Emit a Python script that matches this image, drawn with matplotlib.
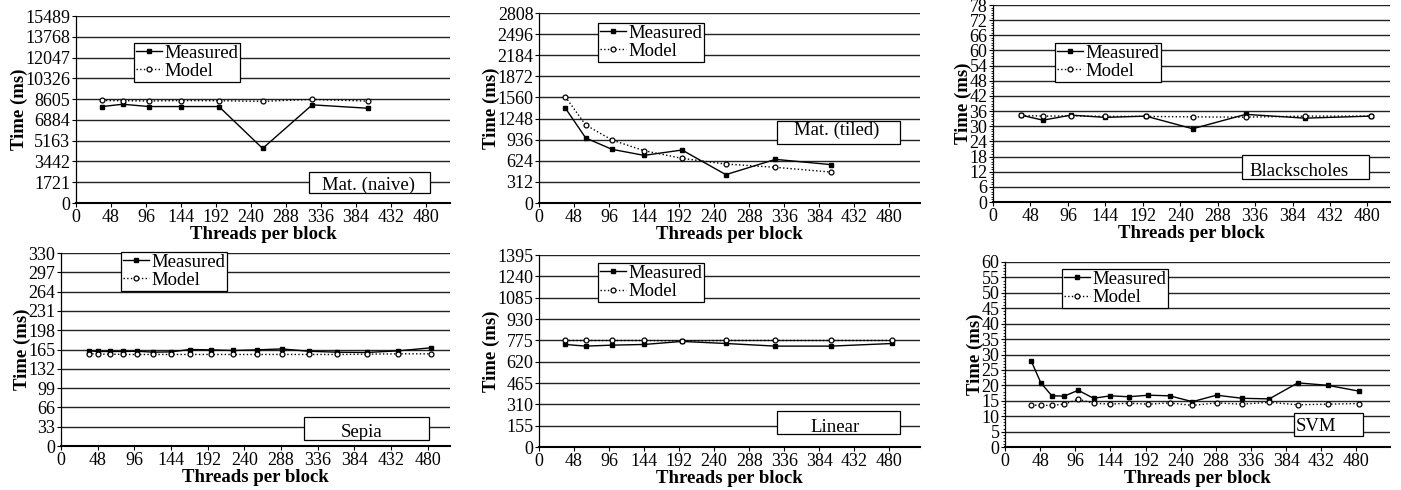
import matplotlib
matplotlib.use("Agg")
import matplotlib.pyplot as plt
from matplotlib.patches import Rectangle
from matplotlib.ticker import AutoMinorLocator

plt.rcParams["font.family"] = ["Liberation Serif", "DejaVu Serif"]

W, H = 1401, 490

# threads per block (square tile sizes)
threads_sq8 = [36, 64, 100, 144, 196, 256, 324, 400]
threads_sq9 = [36, 64, 100, 144, 196, 256, 324, 400, 484]
threads_all = [36, 49, 64, 81, 100, 121, 144, 169, 196, 225, 256, 289, 324, 361, 400, 441, 484]

# Mat. (naive)
naive_measured = [7990, 8180, 7990, 7990, 7990, 4520, 8130, 7850]
naive_model = [8490, 8470, 8450, 8480, 8470, 8420, 8580, 8440]
naive_ticks = [0, 1721, 3442, 5163, 6884, 8605, 10326, 12047, 13768, 15489]

# Mat. (tiled)
tiled_measured = [1404, 961, 793, 704, 783, 419, 645, 567]
tiled_model = [1571, 1153, 931, 773, 660, 576, 527, 458]
tiled_ticks = [0, 312, 624, 936, 1248, 1560, 1872, 2184, 2496, 2808]

# Blackscholes
bs_measured = [34.4, 32.4, 34.4, 33.5, 34.0, 29.0, 34.7, 33.2, 34.0]
bs_model = [34.3, 34.0, 34.1, 33.9, 33.9, 33.7, 33.6, 34.0, 34.0]
bs_ticks = [0, 6, 12, 18, 24, 30, 36, 42, 48, 54, 60, 66, 72, 78]

# Sepia
sepia_measured = [162.7, 161.6, 161.6, 161.6, 162.0, 160.4, 161.0, 165.0, 164.4,
                  163.3, 164.4, 166.0, 162.0, 160.4, 159.9, 162.7, 167.9]
sepia_model = [158.0, 157.0, 157.0, 156.5, 156.5, 156.5, 156.5, 156.5, 156.5,
               156.5, 156.5, 156.5, 156.5, 156.5, 157.0, 157.6, 157.6]
sepia_ticks = [0, 33, 66, 99, 132, 165, 198, 231, 264, 297, 330]

# Linear
linear_measured = [745, 733, 740, 745, 767, 752, 733, 733, 752]
linear_model = [774, 774, 774, 774, 771, 774, 774, 774, 774]
linear_ticks = [0, 155, 310, 465, 620, 775, 930, 1085, 1240, 1395]

# SVM
svm_measured = [27.8, 20.8, 16.6, 16.5, 18.4, 15.8, 16.6, 16.3, 16.8,
                16.6, 14.7, 16.8, 15.8, 15.6, 20.8, 20.0, 18.1]
svm_model = [13.6, 13.5, 13.5, 13.9, 15.5, 14.2, 13.9, 14.2, 13.9,
             14.3, 13.5, 14.3, 13.9, 14.5, 13.7, 13.9, 14.1]
svm_ticks = [0, 5, 10, 15, 20, 25, 30, 35, 40, 45, 50, 55, 60]

x_ticks = [0, 48, 96, 144, 192, 240, 288, 336, 384, 432, 480]

# panel layout in pixels: axes box, x max, legend corner, name box, name anchor
panels = [
    dict(x=threads_sq8, meas=naive_measured, model=naive_model, yt=naive_ticks,
         box=(76, 450, 16, 203), xmax=513, leg=(134, 43), minor=0,
         nbox=(309, 172, 121, 21), name="Mat. (naive)", txt=(369, 185), ha="center"),
    dict(x=threads_sq8, meas=tiled_measured, model=tiled_model, yt=tiled_ticks,
         box=(539, 920, 13, 203), xmax=522, leg=(598, 23), minor=0,
         nbox=(777, 121, 123, 23), name="Mat. (tiled)", txt=(837, 130), ha="center"),
    dict(x=threads_sq9, meas=bs_measured, model=bs_model, yt=bs_ticks,
         box=(993, 1390, 5, 202), xmax=509, leg=(1055, 43), minor=6,
         nbox=(1242, 155, 127, 24), name="Blackscholes", txt=(1299, 172), ha="center"),
    dict(x=threads_all, meas=sepia_measured, model=sepia_model, yt=sepia_ticks,
         box=(61, 450, 253, 446), xmax=509, leg=(121, 252), minor=0,
         nbox=(304, 417, 125, 23), name="Sepia", txt=(362, 432), ha="center"),
    dict(x=threads_sq9, meas=linear_measured, model=linear_model, yt=linear_ticks,
         box=(539, 920, 255, 447), xmax=522, leg=(598, 263), minor=0,
         nbox=(777, 411, 123, 23), name="Linear", txt=(835, 427), ha="center"),
    dict(x=threads_all, meas=svm_measured, model=svm_model, yt=svm_ticks,
         box=(1005, 1390, 262, 447), xmax=526, leg=(1062, 269), minor=5,
         nbox=(1294, 413, 69, 23), name="SVM", txt=(1296, 426), ha="left"),
]

fig = plt.figure(figsize=(W / 100, H / 100), dpi=100)

for p in panels:
    l, r, t, b = p["box"]
    ax = fig.add_axes([l / W, 1 - b / H, (r - l) / W, (b - t) / H])

    for y in p["yt"][1:]:
        ax.axhline(y, color="#222222", lw=1.0, zorder=1)

    ax.plot(p["x"], p["meas"], color="black", lw=1.0, marker="s", ms=3.3,
            mfc="black", mec="black", label="Measured", zorder=3)
    ax.plot(p["x"], p["model"], color="black", lw=1.0, ls=":", marker="o", ms=3.5,
            mfc="white", mec="black", mew=0.9, label="Model", zorder=3)

    ax.set_xlim(0, p["xmax"])
    ax.set_ylim(0, p["yt"][-1])
    ax.set_xticks(x_ticks)
    ax.set_yticks(p["yt"])
    if p["minor"]:
        ax.yaxis.set_minor_locator(AutoMinorLocator(p["minor"]))
    ax.tick_params(axis="both", labelsize=13, length=3, width=0.8, pad=1)
    ax.tick_params(axis="y", which="minor", length=1.5, width=0.6)

    for side in ("top", "right"):
        ax.spines[side].set_visible(False)
    ax.spines["left"].set_linewidth(0.9)
    ax.spines["bottom"].set_linewidth(1.5)

    ax.set_xlabel("Threads per block", fontsize=13.5, fontweight="bold", labelpad=0.5)
    ax.set_ylabel("Time (ms)", fontsize=13.5, fontweight="bold", labelpad=-2)

    lx, ly = p["leg"]
    leg = ax.legend(loc="upper left", bbox_to_anchor=(lx / W, 1 - ly / H),
                    bbox_transform=fig.transFigure, fontsize=13.5, frameon=True,
                    fancybox=False, framealpha=1, edgecolor="black",
                    handlelength=1.4, handletextpad=0.1, borderpad=0.1,
                    labelspacing=0.05, borderaxespad=0)
    leg.get_frame().set_linewidth(0.9)

    bx, by, bw, bh = p["nbox"]
    fig.patches.append(Rectangle((bx / W, 1 - (by + bh) / H), bw / W, bh / H,
                                 transform=fig.transFigure, facecolor="white",
                                 edgecolor="black", lw=0.9, zorder=5))
    tx, ty = p["txt"]
    fig.text(tx / W, 1 - ty / H, p["name"], fontsize=13.5, ha=p["ha"],
             va="center", zorder=6)

fig.savefig("out.png", dpi=100)
